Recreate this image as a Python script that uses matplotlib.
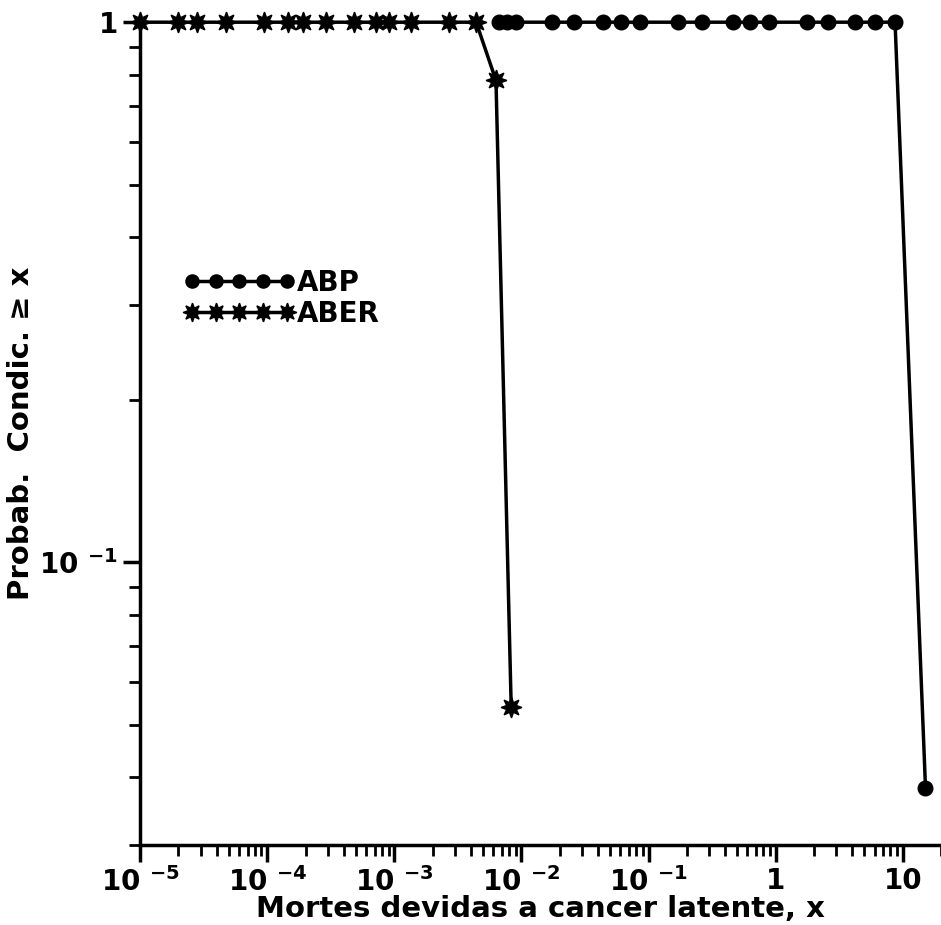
import numpy as np
import matplotlib
matplotlib.use("Agg")
import matplotlib.pyplot as plt
from matplotlib.ticker import FixedLocator, FixedFormatter, NullFormatter

plt.rcParams['font.family'] = ['DejaVu Sans']
plt.rcParams['font.weight'] = 'bold'
plt.rcParams['mathtext.default'] = 'bf'

# ABER series (star markers)
aber_x = [1.0e-5, 2.0e-5, 2.8e-5, 4.7e-5, 9.4e-5, 1.45e-4, 1.9e-4, 2.9e-4,
          4.8e-4, 7.2e-4, 9.1e-4, 1.35e-3, 2.7e-3, 4.4e-3, 6.3e-3, 8.3e-3]
aber_y = [1, 1, 1, 1, 1, 1, 1, 1, 1, 1, 1, 1, 1, 1, 0.78, 0.054]

# ABP series (circle markers)
abp_x = [6.7e-3, 7.7e-3, 9.0e-3, 0.0173, 0.0258, 0.0435, 0.061, 0.086, 0.172,
         0.265, 0.464, 0.63, 0.89, 1.77, 2.58, 4.2, 6.0, 8.7, 15.1]
abp_y = [1, 1, 1, 1, 1, 1, 1, 1, 1, 1, 1, 1, 1, 1, 1, 1, 1, 1, 0.0383]

xticks = [1e-5, 1e-4, 1e-3, 1e-2, 1e-1, 1, 10]
xtick_labels = ['10 $^{-5}$', '10 $^{-4}$', '10 $^{-3}$', '10 $^{-2}$', '10 $^{-1}$', '1', '10']
yticks = [0.1, 1]
ytick_labels = ['10 $^{-1}$', '1']

fig = plt.figure(figsize=(9.41, 9.25), dpi=100)
ax = fig.add_axes([0.149, 0.0865, 0.851, 0.8895])

star = (8, 1, 0)
ax.plot(aber_x, aber_y, color='black', lw=2.5, marker=star, ms=15,
        mfc='black', mec='black', clip_on=False, label='ABER', zorder=3)
ax.plot(abp_x, abp_y, color='black', lw=2.5, marker='o', ms=10.5,
        mfc='black', mec='black', clip_on=False, label='ABP', zorder=3)

ax.set_xscale('log')
ax.set_yscale('log')
ax.set_xlim(1e-5, 20)
ax.set_ylim(0.03, 1.0)

for s in ['top', 'right']:
    ax.spines[s].set_visible(False)
for s in ['left', 'bottom']:
    ax.spines[s].set_linewidth(2.5)

ax.xaxis.set_major_locator(FixedLocator(xticks))
ax.xaxis.set_major_formatter(FixedFormatter(xtick_labels))
ax.yaxis.set_major_locator(FixedLocator(yticks))
ax.yaxis.set_major_formatter(FixedFormatter(ytick_labels))
ax.xaxis.set_minor_formatter(NullFormatter())
ax.yaxis.set_minor_formatter(NullFormatter())

ax.tick_params(axis='both', which='major', direction='out', length=12, width=2.5,
               labelsize=20, pad=4)
ax.tick_params(axis='both', which='minor', direction='out', length=8, width=2)

ax.set_xlabel('Mortes devidas a cancer latente, x', fontsize=21, fontweight='bold',
              va='center')
ax.set_ylabel('Probab.  Condic. ≥ x', fontsize=21, fontweight='bold', va='center')
ax.xaxis.set_label_coords(0.5, -0.078)
ax.yaxis.set_label_coords(-0.149, 0.5)

handles, labels = ax.get_legend_handles_labels()
leg = ax.legend(handles[::-1], labels[::-1], loc='upper left',
                bbox_to_anchor=(170 / 941, 1 - 255 / 925), bbox_transform=fig.transFigure,
                frameon=False, numpoints=5, handlelength=4.0, handletextpad=0.05,
                prop={'size': 20, 'weight': 'bold'}, labelspacing=0.1, borderpad=0,
                markerscale=0.9)

fig.savefig('out.png', dpi=100)
